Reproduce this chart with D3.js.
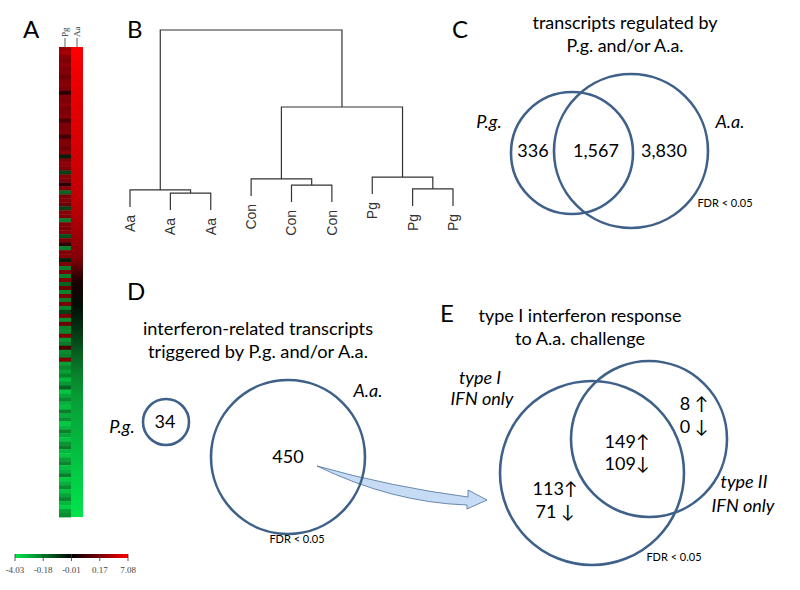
<!DOCTYPE html>
<html>
<head>
<meta charset="utf-8">
<script src="https://cdn.jsdelivr.net/npm/d3@7"></script>
<style>
  body { margin: 0; background: #fff; }
  svg { display: block; }
</style>
</head>
<body>
<svg id="fig" width="800" height="590"></svg>
<script>
// ---- data ----
var heatCols = ["Pg", "Aa"];
// Pg column, top to bottom (log ratios read from the stripes)
var pgValues = [1.8, 2.5, 0.9, 0.4, 1.2, 0.3, 0.7, 0.15, 0.5, 1.0, 0.3, 0.06, 0.6, 0.35, 1.1, 0.18, 0.45, 0.8, 0.1, 0.4, 0.22, 0.6, 0.08, 0.3, 0.5, 0.15,
  0.9, -0.05, 0.6, 1.3, 0.3, -0.1, 0.8, 0.45, 0.06, 1.0, -0.15, 0.3, 0.6, 0.15, -0.1, 0.9, 0.35, -0.2, 0.55, 0.18, 0.75, -0.12, 0.3, 0.06, -0.3, 0.45, 0.65, -0.05, 0.25, -0.2,
  0.35, -0.3, 0.6, -0.15, 0.15, -0.6, 0.4, -0.25, 0.2, -0.5, -0.1, 0.3, -0.9, 0.15, -0.35, -0.6, 0.2, -1.1, -0.2, 0.1, -0.8, -0.4, 0.2, -1.4, -0.6,
  -1.5, -0.45, -2.4, -1.2, -0.15, -2.8, -1.8, -0.6, -2.2, -2.6, -0.3, -2.0, -0.9, -3.0, -2.4, -0.45, -1.8, -2.7, -1.2, -0.25, -2.4, -2.9, -1.5, -0.6, -2.6, -2.0, -0.35, -3.0, -2.2, -0.9, -2.7, -1.8, -0.6, -2.4, -3.2, -1.5, -0.9];
// Aa column is sorted, so sampled values along it
var aaValues = [7.0, 6.3, 5.8, 5.4, 5.0, 4.5, 4.0, 3.3, 2.0, 0.5, 0.03, -0.03, -0.08, -0.14, -0.5, -1.5, -2.0, -2.5, -3.0, -3.5, -4.0];
var legendTicks = [-4.03, -0.18, -0.01, 0.17, 7.08];
var legendColors = ["#00e64d", "#0a7a2a", "#000000", "#7a0008", "#ff0000"];

var leafNames = ["Aa", "Aa", "Aa", "Con", "Con", "Con", "Pg", "Pg", "Pg"];
// merge heights of the hierarchical clustering
var mergeTree = {h: 100, children: [
  {h: 5.9, children: [{leaf: 0}, {h: 4.1, children: [{leaf: 1}, {leaf: 2}]}]},
  {h: 54.7, children: [
    {h: 12.4, children: [{leaf: 3}, {h: 8.8, children: [{leaf: 4}, {leaf: 5}]}]},
    {h: 13.5, children: [{leaf: 6}, {h: 6.5, children: [{leaf: 7}, {leaf: 8}]}]}
  ]}
]};

var cSets = ["P.g.", "A.a."];
var cCounts = [336, 1567, 3830];
var dSets = ["P.g.", "A.a."];
var dCounts = [34, 450];
var eSets = [["type I", "IFN only"], ["type II", "IFN only"]];
var eUp = [113, 149, 8];
var eDown = [71, 109, 0];

// ---- drawing ----
var sans = "Lato, 'Open Sans', sans-serif";
var serif = "'Liberation Serif', 'DejaVu Serif', serif";
var vennStroke = "#3f6189";
var svg = d3.select("#fig");
var defs = svg.append("defs");
svg.append("rect").attr("width", 800).attr("height", 590).attr("fill", "#fff");

function label(g, x, y, str, o) {
  o = o || {};
  var t = g.append("text")
    .attr("x", x).attr("y", y)
    .attr("text-anchor", o.anchor || "middle")
    .attr("font-family", o.font || sans)
    .attr("font-size", o.size || 18)
    .attr("fill", o.fill || "#000")
    .text(str);
  if (o.italic) t.attr("font-style", "italic");
  if (o.width) t.attr("textLength", o.width).attr("lengthAdjust", "spacingAndGlyphs");
  return t;
}

function circle(g, cx, cy, r) {
  g.append("circle").attr("cx", cx).attr("cy", cy).attr("r", r)
    .attr("fill", "none").attr("stroke", vennStroke).attr("stroke-width", 2.6);
}

// panel letters
[["A", 23, 38], ["B", 127, 38], ["C", 452, 38], ["D", 127, 300], ["E", 440, 322]].forEach(function(p) {
  label(svg, p[1], p[2], p[0], {anchor: "start", size: 24});
});

// ---- A: heatmap ----
var color = d3.scaleLinear().domain(legendTicks).range(legendColors);
var xCol = d3.scaleBand().domain(heatCols).range([59, 83]);
var yRow = d3.scaleBand().domain(d3.range(pgValues.length)).range([47, 517]);
var heat = svg.append("g");

heat.selectAll("rect.pg")
  .data(pgValues)
  .join("rect")
  .attr("class", "pg")
  .attr("x", xCol("Pg"))
  .attr("y", (d, i) => yRow(i))
  .attr("width", xCol.bandwidth())
  .attr("height", yRow.bandwidth() + 0.4)
  .attr("fill", d => color(d));

var aaGrad = defs.append("linearGradient").attr("id", "aaGrad")
  .attr("x1", 0).attr("y1", 0).attr("x2", 0).attr("y2", 1);
var stopPos = d3.scaleLinear().domain([0, aaValues.length - 1]).range([0, 100]);
aaGrad.selectAll("stop").data(aaValues).join("stop")
  .attr("offset", (d, i) => stopPos(i) + "%")
  .attr("stop-color", d => color(d));
heat.append("rect")
  .attr("x", xCol("Aa")).attr("y", 47)
  .attr("width", xCol.bandwidth()).attr("height", 470)
  .attr("fill", "url(#aaGrad)");

heatCols.forEach(function(c) {
  var cx = xCol(c) + xCol.bandwidth() / 2;
  heat.append("line").attr("x1", cx).attr("x2", cx).attr("y1", 38).attr("y2", 47)
    .attr("stroke", "#333").attr("stroke-width", 0.8);
  heat.append("text")
    .attr("transform", "translate(" + cx + ",37) rotate(-90)")
    .attr("dy", "0.35em")
    .attr("font-family", serif).attr("font-size", 9).attr("fill", "#333")
    .text(c);
});

// colour key
var xLeg = d3.scalePoint().domain(legendTicks).range([15, 128]);
var legGrad = defs.append("linearGradient").attr("id", "legGrad");
legGrad.selectAll("stop").data(legendColors).join("stop")
  .attr("offset", (d, i) => (i * 25) + "%")
  .attr("stop-color", d => d);
var key = svg.append("g");
key.append("rect").attr("x", 15).attr("y", 554).attr("width", 113).attr("height", 4)
  .attr("fill", "url(#legGrad)");
key.selectAll("line").data(legendTicks).join("line")
  .attr("x1", d => xLeg(d)).attr("x2", d => xLeg(d))
  .attr("y1", 554).attr("y2", 561)
  .attr("stroke", "#333").attr("stroke-width", 0.8);
key.selectAll("text").data(legendTicks).join("text")
  .attr("x", d => xLeg(d)).attr("y", 573)
  .attr("text-anchor", "middle")
  .attr("font-family", serif).attr("font-size", 9).attr("fill", "#444")
  .text(d => d.toFixed(2));

// ---- B: dendrogram ----
var root = d3.hierarchy(mergeTree);
var xLeaf = d3.scalePoint().domain(d3.range(leafNames.length)).range([130, 453]);
var yH = d3.scaleLinear().domain([0, 100]).range([200, 30]);
var hang = 17;
root.eachAfter(function(n) {
  if (n.children) {
    n.x = d3.mean(n.children, c => c.x);
    n.y = yH(n.data.h);
  } else {
    n.x = xLeaf(n.data.leaf);
  }
});
root.each(function(n) { if (!n.children) n.y = n.parent.y + hang; });

var dendro = svg.append("g");
dendro.selectAll("path")
  .data(root.descendants().filter(n => n.children))
  .join("path")
  .attr("d", function(n) {
    var a = n.children[0], b = n.children[1];
    return "M" + a.x + "," + a.y + "V" + n.y + "H" + b.x + "V" + b.y;
  })
  .attr("fill", "none").attr("stroke", "#333").attr("stroke-width", 1.2);

dendro.selectAll("text")
  .data(root.leaves())
  .join("text")
  .attr("transform", n => "translate(" + n.x + "," + (n.y + 8) + ") rotate(-90)")
  .attr("dy", "0.35em")
  .attr("text-anchor", "end")
  .attr("font-family", "'Liberation Sans', Arial, sans-serif")
  .attr("font-size", 14).attr("fill", "#333")
  .text(n => leafNames[n.data.leaf]);

// ---- C: all regulated transcripts ----
var gc = svg.append("g");
label(gc, 625, 29, "transcripts regulated by", {width: 185});
label(gc, 625, 52, cSets[0] + " and/or " + cSets[1], {width: 117});
circle(gc, 572, 153, 61);
circle(gc, 631, 151, 77);
label(gc, 489, 128, cSets[0], {italic: true});
label(gc, 730, 128, cSets[1], {italic: true});
var fmt = d3.format(",");
[[533, cCounts[0]], [596, cCounts[1]], [664, cCounts[2]]].forEach(function(p) {
  label(gc, p[0], 157, fmt(p[1]), {size: 18});
});
label(gc, 725, 207, "FDR < 0.05", {size: 11});

// ---- D: interferon-related ----
var gd = svg.append("g");
label(gd, 258, 335, "interferon-related transcripts", {width: 230});
label(gd, 258, 358, "triggered by " + dSets[0] + " and/or " + dSets[1], {width: 220});

// arrow from the A.a. set into panel E (behind the circle)
gd.append("path")
  .attr("d", "M317,466 Q392,487 468,497 L468,490 L487,500 L467,509 L467,505 Q392,502.5 317,466 Z")
  .attr("fill", "#c5dcf4").attr("stroke", "#4a6e99").attr("stroke-width", 0.8);

circle(gd, 166, 422, 23);
circle(gd, 288, 457, 77);
label(gd, 122, 433, dSets[0], {italic: true});
label(gd, 368, 397, dSets[1], {italic: true});
label(gd, 165, 428, fmt(dCounts[0]));
label(gd, 288, 463, fmt(dCounts[1]));
label(gd, 297, 543, "FDR < 0.05", {size: 11});

// ---- E: type I / type II ----
var ge = svg.append("g");
label(ge, 580, 322, "type I interferon response", {width: 203});
label(ge, 580, 345, "to A.a. challenge", {width: 130});
circle(ge, 592, 473, 92);
circle(ge, 649, 439, 78);
label(ge, 480, 384, eSets[0][0], {italic: true});
label(ge, 482, 405, eSets[0][1], {italic: true});
label(ge, 744, 488, eSets[1][0], {italic: true});
label(ge, 743, 512, eSets[1][1], {italic: true});

function arrowText(n, arrow) { return n + (n < 100 ? " " : "") + arrow; }
var regionPos = [[555, 495, 518], [627, 448, 470], [694, 410, 433]];
regionPos.forEach(function(p, i) {
  label(ge, p[0], p[1], arrowText(eUp[i], "\u2191"));
  label(ge, p[0], p[2], arrowText(eDown[i], "\u2193"));
});
label(ge, 674, 561, "FDR < 0.05", {size: 11});
</script>
</body>
</html>
